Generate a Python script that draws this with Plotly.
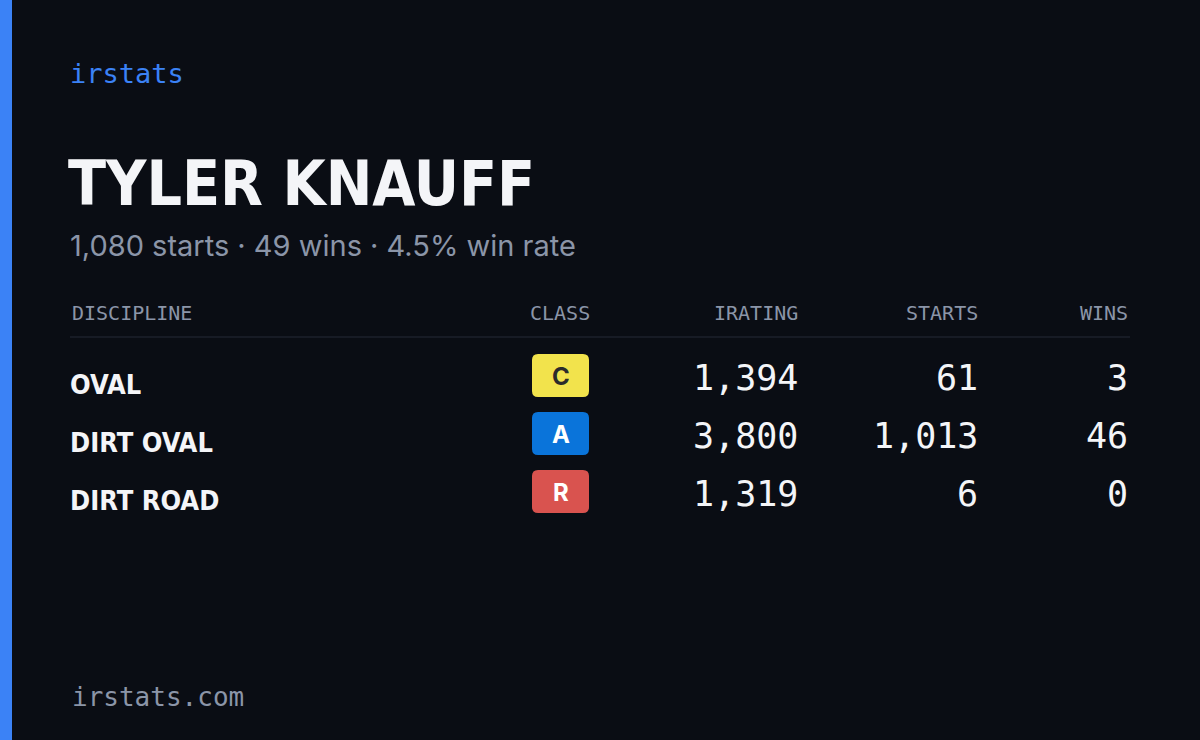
import plotly.graph_objects as go

# Driver card data
driver = 'TYLER KNAUFF'
summary = '1,080 starts · 49 wins · 4.5% win rate'
headers = ['DISCIPLINE', 'CLASS', 'IRATING', 'STARTS', 'WINS']
disciplines = ['OVAL', 'DIRT OVAL', 'DIRT ROAD']
classes = ['C', 'A', 'R']
class_colors = ['#f2e34c', '#0a74da', '#d9534f']
class_text_colors = ['#2b2b2b', '#ffffff', '#ffffff']
iratings = [1394, 3800, 1319]
starts = [61, 1013, 6]
wins = [3, 46, 0]

BG = '#0a0d14'
MUTED = '#8b95a8'
MONO = 'DejaVu Sans Mono, Liberation Mono, monospace'
COND = 'Liberation Sans Narrow, DejaVu Sans Condensed, Roboto Condensed, sans-serif'

row_y = [378, 436, 494]

fig = go.Figure()
ann = []

def txt(x, y, s, size, color, family, xanchor='left', bold=False):
    ann.append(dict(x=x, y=y, xref='x', yref='y', text=f'<b>{s}</b>' if bold else s,
                    showarrow=False, xanchor=xanchor, yanchor='middle',
                    font=dict(size=size, color=color, family=family)))

txt(68, 73, 'irstats', 27, '#3b82f6', MONO)
txt(66, 183, driver, 62, '#f4f5f8', COND, bold=True)
txt(68, 245, summary, 29, MUTED, 'Inter, sans-serif')

# Header row
txt(70, 313, headers[0], 20, MUTED, MONO)
txt(560, 313, headers[1], 20, MUTED, MONO, 'center')
txt(800, 313, headers[2], 20, MUTED, MONO, 'right')
txt(980, 313, headers[3], 20, MUTED, MONO, 'right')
txt(1130, 313, headers[4], 20, MUTED, MONO, 'right')

shapes = [
    dict(type='rect', xref='x', yref='y', x0=0, x1=12, y0=0, y1=740,
         fillcolor='#3b82f6', line_width=0),
    dict(type='line', xref='x', yref='y', x0=70, x1=1130, y0=337, y1=337,
         line=dict(color='#1c212b', width=1.5)),
]

for i, y in enumerate(row_y):
    txt(68, y + 6, disciplines[i], 27, '#f4f5f8', COND, bold=True)
    # rounded badge
    x0, x1, y0, y1, r = 532, 589, y - 24, y + 19, 6
    path = (f'M{x0+r},{y0} L{x1-r},{y0} Q{x1},{y0} {x1},{y0+r} L{x1},{y1-r} '
            f'Q{x1},{y1} {x1-r},{y1} L{x0+r},{y1} Q{x0},{y1} {x0},{y1-r} '
            f'L{x0},{y0+r} Q{x0},{y0} {x0+r},{y0} Z')
    shapes.append(dict(type='path', xref='x', yref='y', path=path,
                       fillcolor=class_colors[i], line_width=0))
    txt(560.5, y - 2, classes[i], 24, class_text_colors[i], 'Inter, sans-serif', 'center', bold=True)
    txt(800, y, f'{iratings[i]:,}', 35, '#f4f5f8', MONO, 'right')
    txt(980, y, f'{starts[i]:,}', 35, '#f4f5f8', MONO, 'right')
    txt(1130, y, f'{wins[i]:,}', 35, '#f4f5f8', MONO, 'right')

txt(70, 697, 'irstats.com', 26, MUTED, MONO)

fig.update_layout(
    width=1200, height=740,
    margin=dict(l=0, r=0, t=0, b=0),
    paper_bgcolor=BG, plot_bgcolor=BG,
    xaxis=dict(range=[0, 1200], visible=False, fixedrange=True),
    yaxis=dict(range=[740, 0], visible=False, fixedrange=True),
    annotations=ann, shapes=shapes, showlegend=False,
)

fig.write_html('out.html', config={'displayModeBar': False},
               post_script="document.body.style.margin='0';document.body.style.background='#0a0d14';")
